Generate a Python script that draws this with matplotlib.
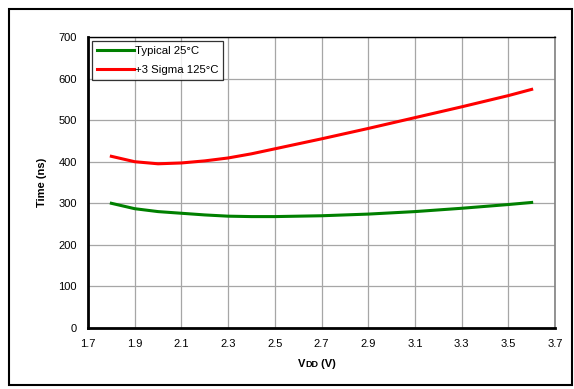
import matplotlib.pyplot as plt
from matplotlib.patches import Rectangle

plt.rcParams['font.family'] = ['Liberation Sans', 'DejaVu Sans']

# VDD points and times
vdd = [1.8, 1.9, 2.0, 2.1, 2.2, 2.3, 2.4, 2.5, 2.7, 2.9, 3.1, 3.3, 3.5, 3.6]
typ_25 = [300, 287, 280, 276, 272, 269, 268, 268, 270, 274, 280, 288, 297, 302]
sigma_125 = [413, 400, 395, 397, 402, 409, 419, 431, 455, 480, 506, 532, 559, 574]

xticks = [1.7, 1.9, 2.1, 2.3, 2.5, 2.7, 2.9, 3.1, 3.3, 3.5, 3.7]
yticks = [0, 100, 200, 300, 400, 500, 600, 700]

fig = plt.figure(figsize=(5.74, 3.89), dpi=100)
ax = fig.add_axes([88/574, 1-328/389, (555-88)/574, (328-37)/389])

ax.plot(vdd, typ_25, color='#008000', lw=2.2, label='Typical 25°C')
ax.plot(vdd, sigma_125, color='#ff0000', lw=2.2, label='+3 Sigma 125°C')

ax.set_xlim(1.7, 3.7)
ax.set_ylim(0, 700)
ax.set_xticks(xticks)
ax.set_yticks(yticks)
ax.set_xticklabels(['%.1f' % t for t in xticks])
ax.tick_params(length=0, labelsize=8, pad=8)
ax.grid(True, color='#a6a6a6', lw=0.9)
ax.set_axisbelow(True)

ax.spines['left'].set_linewidth(2)
ax.spines['bottom'].set_linewidth(2)
ax.spines['top'].set_linewidth(1)
ax.spines['right'].set_color('#808080')
ax.spines['right'].set_linewidth(1.2)

ax.set_ylabel('Time (ns)', fontsize=8, fontweight='bold', labelpad=8)

# VDD (V) with small-caps subscript look
t1 = fig.text(298/574, 22/389, 'V', fontsize=8, fontweight='bold', ha='left', va='baseline')
t2 = ax.annotate('DD', xy=(1, 0), xycoords=t1, fontsize=6.5, fontweight='bold', va='bottom', ha='left')
ax.annotate(' (V)', xy=(1, 0), xycoords=t2, fontsize=8, fontweight='bold', va='bottom', ha='left')

leg = ax.legend(loc='upper left', fontsize=8.2, frameon=True, fancybox=False,
                edgecolor='black', handlelength=3.2, handletextpad=0.1,
                borderaxespad=0.35, borderpad=0.45, labelspacing=0.8)
leg.get_frame().set_linewidth(0.9)

fig.patches.append(Rectangle((9/574, 4/389), 563/574, 376/389, transform=fig.transFigure,
                             fill=False, edgecolor='black', lw=1.5))

fig.savefig('out.png', dpi=100)
